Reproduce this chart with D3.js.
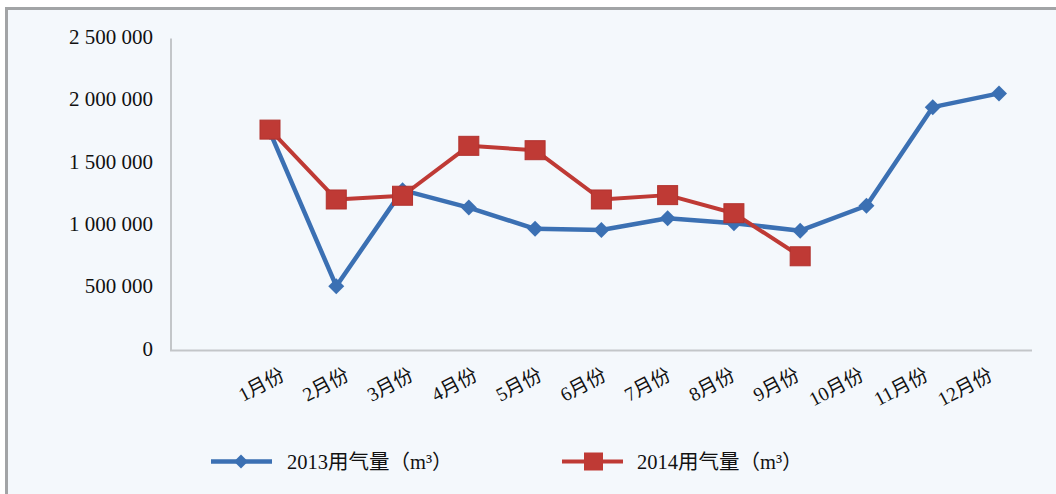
<!DOCTYPE html>
<html>
<head>
<meta charset="utf-8">
<script src="https://cdn.jsdelivr.net/npm/d3@7"></script>
<style>
  html, body { margin: 0; padding: 0; background: #ffffff; }
  svg { display: block; }
  .serif { font-family: "Liberation Serif", "Noto Sans CJK SC", serif; }
</style>
</head>
<body>
<svg id="chart" width="1056" height="494"></svg>
<script>
// Monthly gas consumption, m³
const months = ["1月份", "2月份", "3月份", "4月份", "5月份", "6月份",
                "7月份", "8月份", "9月份", "10月份", "11月份", "12月份"];
const gas2013 = [1750000, 515000, 1285000, 1145000, 975000, 965000,
                 1060000, 1020000, 960000, 1160000, 1950000, 2060000];
const gas2014 = [1770000, 1210000, 1240000, 1640000, 1605000, 1210000,
                 1245000, 1100000, 755000];
const yTicks = [0, 500000, 1000000, 1500000, 2000000, 2500000];
const seriesNames = ["2013用气量（m³）", "2014用气量（m³）"];

const blue = "#3b70b3";
const red = "#bf3a35";

const svg = d3.select("#chart");

// chart frame
svg.append("rect")
  .attr("x", 6.5).attr("y", 8.5)
  .attr("width", 1070).attr("height", 500)
  .attr("fill", "#f4f8fc")
  .attr("stroke", "#a2a4a6")
  .attr("stroke-width", 3);

const x = d3.scalePoint().domain(months).range([270, 999]);
const xLabel = d3.scalePoint().domain(months).range([286, 994]);
const y = d3.scaleLinear().domain([0, 2500000]).range([350.5, 38.5]);

const fmt = d3.formatLocale({ decimal: ".", thousands: " ", grouping: [3], currency: ["", ""] }).format(",");

// axes
const g = svg.append("g");
g.append("line")
  .attr("x1", 171).attr("x2", 171)
  .attr("y1", y(2500000)).attr("y2", y(0))
  .attr("stroke", "#c3c6c9").attr("stroke-width", 2);
g.append("line")
  .attr("x1", 170).attr("x2", 1032)
  .attr("y1", y(0)).attr("y2", y(0))
  .attr("stroke", "#c3c6c9").attr("stroke-width", 2);

g.selectAll(".ytick")
  .data(yTicks)
  .join("text")
  .attr("class", "serif")
  .attr("x", 153)
  .attr("y", d => y(d) - 2)
  .attr("dy", "0.35em")
  .attr("text-anchor", "end")
  .attr("font-size", 21)
  .attr("fill", "#111")
  .text(d => fmt(d));

g.selectAll(".xlabel")
  .data(months)
  .join("text")
  .attr("class", "serif")
  .attr("text-anchor", "end")
  .attr("font-size", 19.5)
  .attr("fill", "#111")
  .attr("transform", d => `translate(${xLabel(d)},379) rotate(-28)`)
  .text(d => d);

// lines
const line = d3.line().x((d, i) => x(months[i])).y(d => y(d));

svg.append("path")
  .datum(gas2013)
  .attr("d", line)
  .attr("fill", "none")
  .attr("stroke", blue)
  .attr("stroke-width", 4.5)
  .attr("stroke-linejoin", "round");

svg.append("path")
  .datum(gas2014)
  .attr("d", line)
  .attr("fill", "none")
  .attr("stroke", red)
  .attr("stroke-width", 4)
  .attr("stroke-linejoin", "round");

// markers
const diamond = s => `M0,${-s}L${s},0L0,${s}L${-s},0Z`;

svg.selectAll(".m13")
  .data(gas2013)
  .join("path")
  .attr("d", diamond(8))
  .attr("transform", (d, i) => `translate(${x(months[i])},${y(d)})`)
  .attr("fill", blue);

svg.selectAll(".m14")
  .data(gas2014)
  .join("rect")
  .attr("x", (d, i) => x(months[i]) - 10)
  .attr("y", d => y(d) - 9.5)
  .attr("width", 20).attr("height", 19)
  .attr("fill", red)
  .attr("stroke", "#b2322e")
  .attr("stroke-width", 1);

// legend
const legendY = 461.5;
const lg = svg.append("g");
lg.append("line").attr("x1", 211).attr("x2", 272).attr("y1", legendY).attr("y2", legendY)
  .attr("stroke", blue).attr("stroke-width", 4.5);
lg.append("path").attr("d", diamond(7)).attr("transform", `translate(241,${legendY})`).attr("fill", blue);
lg.append("text").attr("class", "serif").attr("x", 287).attr("y", legendY).attr("dy", "0.35em")
  .attr("font-size", 20.5).attr("fill", "#111").text(seriesNames[0]);

lg.append("line").attr("x1", 562).attr("x2", 623).attr("y1", legendY).attr("y2", legendY)
  .attr("stroke", red).attr("stroke-width", 4);
lg.append("rect").attr("x", 584).attr("y", legendY - 9).attr("width", 19).attr("height", 18).attr("fill", red);
lg.append("text").attr("class", "serif").attr("x", 637).attr("y", legendY).attr("dy", "0.35em")
  .attr("font-size", 20.5).attr("fill", "#111").text(seriesNames[1]);
</script>
</body>
</html>
